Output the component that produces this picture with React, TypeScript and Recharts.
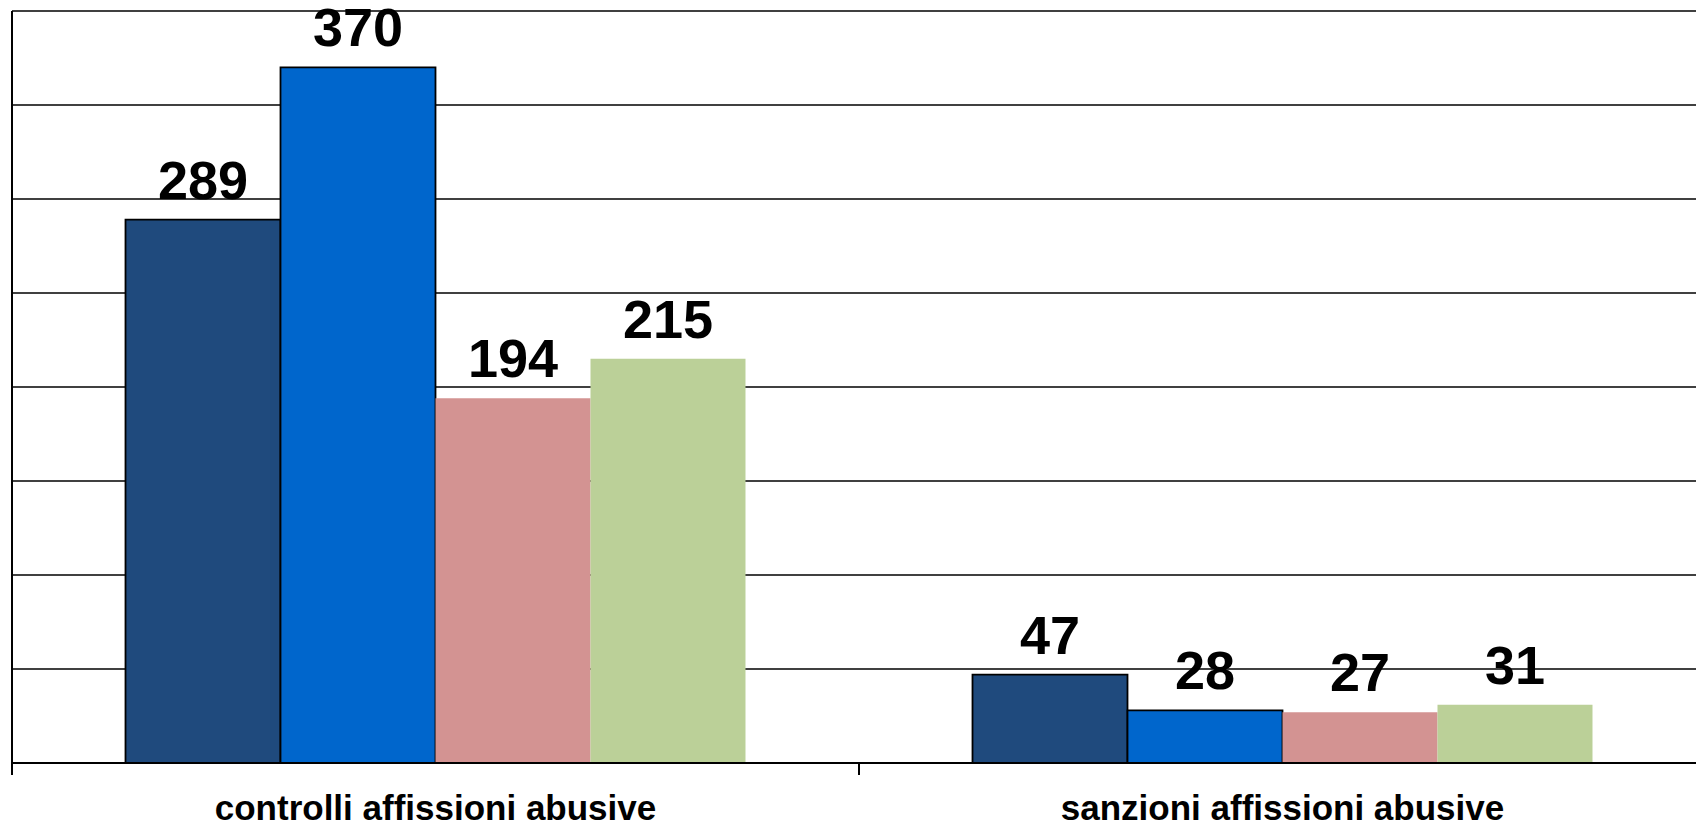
import React from "react";
import { BarChart, Bar, XAxis, YAxis, CartesianGrid, LabelList } from "recharts";

const categories = ["controlli affissioni abusive", "sanzioni affissioni abusive"];
const series1 = [289, 47];
const series2 = [370, 28];
const series3 = [194, 27];
const series4 = [215, 31];
const yTicks = [0, 50, 100, 150, 200, 250, 300, 350, 400];

const data = categories.map((c, i) => ({
  name: c,
  s1: series1[i],
  s2: series2[i],
  s3: series3[i],
  s4: series4[i],
}));

const FONT = "'Liberation Sans', Arial, sans-serif";

const labelProps = {
  position: "top" as const,
  offset: 21,
  fill: "#000",
  fontSize: 54,
  fontWeight: 700,
  fontFamily: FONT,
};

const TICK_SIZE = 12;
const TICK_MARGIN = 20;

const EmptyTick = () => <g />;

const CategoryTick = (props: any) => {
  const { x, y, payload } = props;
  const half = payload && typeof payload.offset === "number" ? payload.offset : 0;
  const axisY = y - TICK_SIZE - TICK_MARGIN;
  return (
    <g>
      <line x1={x - half} x2={x - half} y1={axisY} y2={axisY + TICK_SIZE} stroke="#000" strokeWidth={2} />
      <text
        x={x}
        y={y}
        dy="0.71em"
        textAnchor="middle"
        fill="#000"
        fontSize={35}
        fontWeight={700}
        fontFamily={FONT}
      >
        {payload.value}
      </text>
    </g>
  );
};

export default function App() {
  return (
    <div style={{ position: "absolute", left: 0, top: 0, width: 1696, height: 826, overflow: "hidden", background: "#fff" }}>
      <BarChart
        width={1706}
        height={826}
        data={data}
        margin={{ top: 11, right: 0, bottom: 0, left: 0 }}
        barCategoryGap="13.4%"
        barGap={0}
      >
        <CartesianGrid vertical={false} stroke="#000" strokeWidth={1.6} xAxisId="cat" yAxisId="val" />
        <YAxis
          yAxisId="val"
          width={12}
          domain={[0, 400]}
          ticks={yTicks}
          tick={EmptyTick}
          tickLine={false}
          axisLine={{ stroke: "#000", strokeWidth: 2 }}
        />
        <XAxis
          xAxisId="cat"
          dataKey="name"
          height={63}
          axisLine={{ stroke: "#000", strokeWidth: 2 }}
          tickLine={false}
          tickSize={TICK_SIZE}
          tickMargin={TICK_MARGIN}
          interval={0}
          tick={CategoryTick}
        />
        <Bar xAxisId="cat" yAxisId="val" dataKey="s1" name="Serie 1" fill="#1F4A7D" stroke="#000" strokeWidth={1.8} isAnimationActive={false}>
          <LabelList dataKey="s1" {...labelProps} />
        </Bar>
        <Bar xAxisId="cat" yAxisId="val" dataKey="s2" name="Serie 2" fill="#0066CC" stroke="#000" strokeWidth={1.8} isAnimationActive={false}>
          <LabelList dataKey="s2" {...labelProps} />
        </Bar>
        <Bar xAxisId="cat" yAxisId="val" dataKey="s3" name="Serie 3" fill="#D39392" isAnimationActive={false}>
          <LabelList dataKey="s3" {...labelProps} />
        </Bar>
        <Bar xAxisId="cat" yAxisId="val" dataKey="s4" name="Serie 4" fill="#BBD098" isAnimationActive={false}>
          <LabelList dataKey="s4" {...labelProps} />
        </Bar>
      </BarChart>
    </div>
  );
}
